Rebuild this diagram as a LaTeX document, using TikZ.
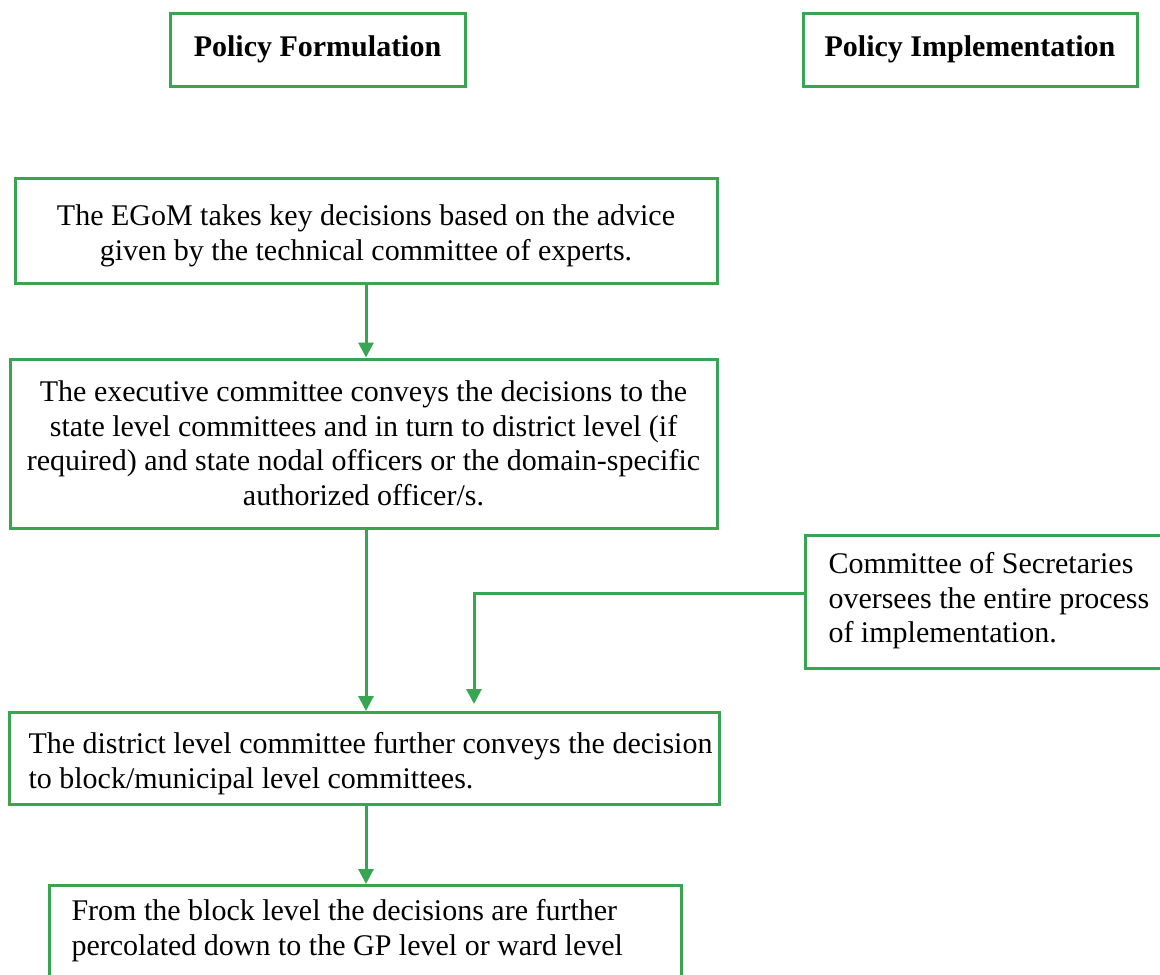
\documentclass[tikz,border=0pt]{standalone}
\usepackage{fontspec}
\setmainfont{Liberation Serif}
\usetikzlibrary{arrows.meta}
\definecolor{flowgreen}{RGB}{56,165,82}
\newcommand{\bodysize}{\fontsize{30}{34.5}\selectfont}
\begin{document}
\begin{tikzpicture}[x=1pt, y=1pt, font=\bodysize,
  box/.style={draw=flowgreen, line width=3pt, inner sep=0pt},
  flowarrow/.style={-{Triangle[width=15pt,length=15pt]}, draw=flowgreen, line width=3pt}]
\clip (0,0) rectangle (1160,-975);
% column headings
\node[box, font=\bodysize\bfseries, minimum width=295pt, minimum height=73pt] (formul) at (317.5,-49.5) {Policy Formulation};
\node[box, font=\bodysize\bfseries, minimum width=334pt, minimum height=73pt] (implem) at (970,-49.5) {Policy Implementation};
% formulation steps
\node[box, anchor=north, align=flush center, text width=662pt, inner xsep=20pt, text height=47pt, text depth=58pt] (egom) at (366,-177) {The EGoM takes key decisions based on the advice\\given by the technical committee of experts.};
\node[box, align=center, minimum width=707pt, minimum height=169pt] (exec) at (363.5,-443.5) {The executive committee conveys the decisions to the\\state level committees and in turn to district level (if\\required) and state nodal officers or the domain-specific\\authorized officer/s.};
\node[box, anchor=north west, align=flush left, text width=672pt, inner xsep=19pt, text height=41pt, text depth=51pt] (dist) at (8,-711) {\mbox{The district level committee further conveys the decision}\\to block/municipal level committees.};
\node[box, anchor=north west, align=flush left, text width=588pt, inner xsep=22pt, text height=35pt, text depth=100pt] (block) at (48,-884) {From the block level the decisions are further\\percolated down to the GP level or ward level};
% implementation side
\node[box, anchor=north west, align=flush left, text width=334pt, inner xsep=23pt, text height=38pt, text depth=95pt] (secy) at (804,-534) {Committee of Secretaries\\oversees the entire process\\of implementation.};
\coordinate (bend) at (474,-593);
\coordinate (bendend) at (474,-704);
% connectors
\draw[flowarrow] (egom.south) -- (egom.south |- exec.north);
\draw[flowarrow] (egom.south |- exec.south) -- (egom.south |- dist.north);
\draw[flowarrow] (egom.south |- dist.south) -- (egom.south |- block.north);
\draw[flowarrow] (secy.west |- bend) -- (bend) -- (bendend);
\end{tikzpicture}
\end{document}
